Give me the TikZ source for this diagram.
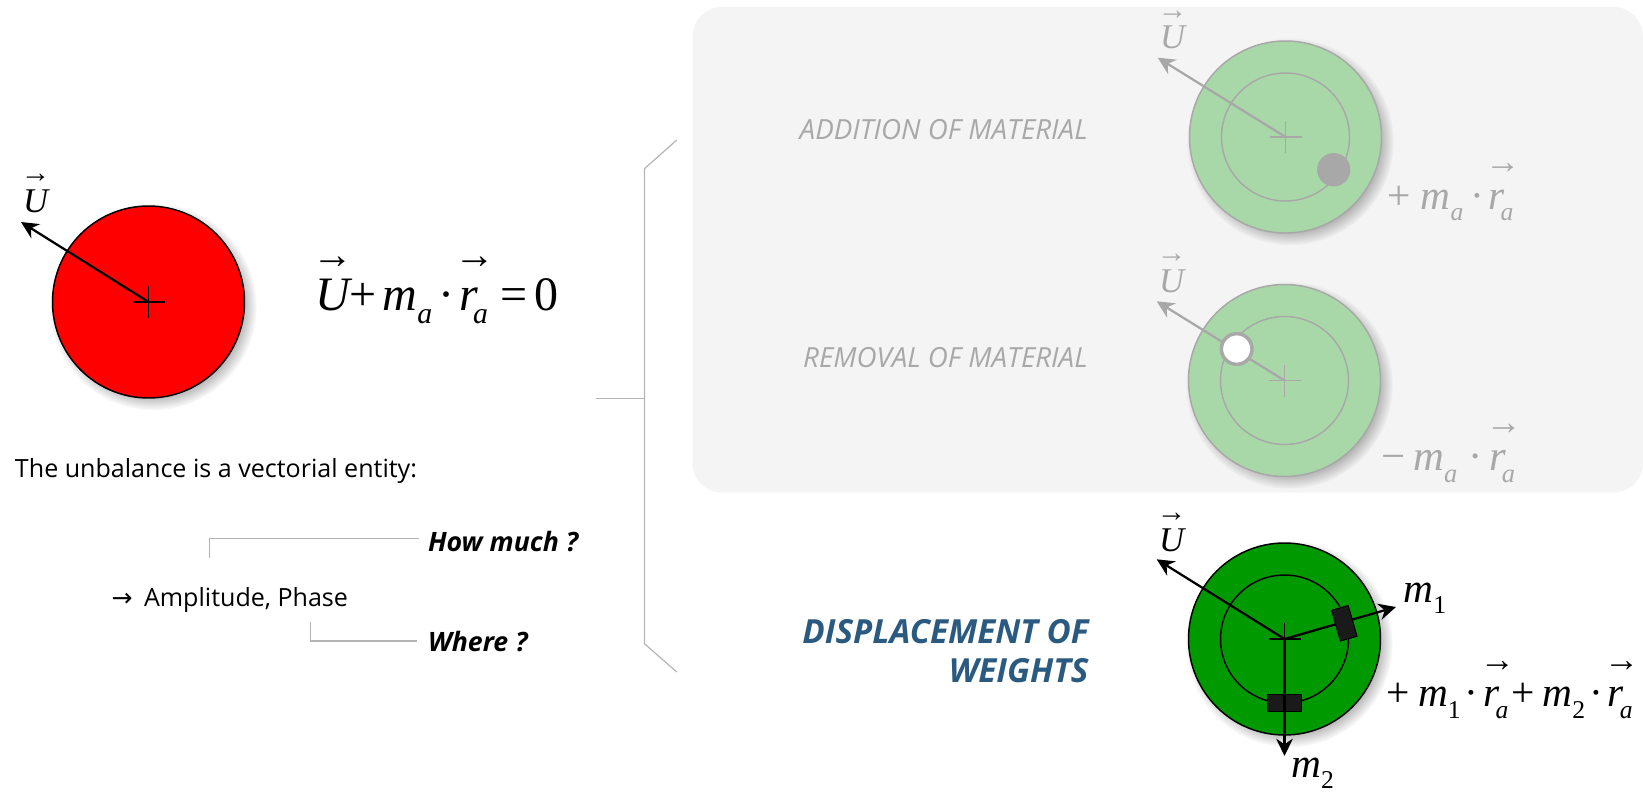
\documentclass[tikz,border=0pt]{standalone}
\usepackage{fontspec}
\setmainfont{Open Sans}
\newfontfamily\eqfont{Liberation Serif}
\newfontfamily\symfont{DejaVu Sans}
\usetikzlibrary{arrows.meta,shadows}

\definecolor{panelgray}{HTML}{F4F4F4}
\definecolor{mutegray}{HTML}{A8A8A8}
\definecolor{leadgray}{HTML}{B4B4B4}
\definecolor{mutegreen}{HTML}{A9D8A8}
\definecolor{diskgreen}{HTML}{009900}
\definecolor{titleblue}{HTML}{2A5A80}
\definecolor{blockdark}{HTML}{1A1A1A}

\newcommand{\arrowover}[2][0em]{\setbox0\hbox{#2}\makebox[0pt][l]{\makebox[\wd0][c]{\kern#1\raisebox{0.86em}{\scalebox{0.85}{→}}}}\box0}
\newcommand{\eqsub}[1]{\raisebox{-0.28em}{\scalebox{0.62}{#1}}}

\tikzset{every picture/.style={line width=0.75pt}}
\tikzset{
  disk/.style={circle,draw=#1,line width=1.1pt,minimum size=144pt,inner sep=0pt,outer sep=0pt,
    circular drop shadow={shadow xshift=3.2pt,shadow yshift=-3.2pt,shadow scale=1.08,opacity=.6}},
  innerring/.style={circle,draw=#1,line width=1.1pt,minimum size=96pt,inner sep=0pt,outer sep=0pt},
  vecarrow/.style={line width=1.7pt,-{Stealth[length=13pt,width=12.5pt]}},
  plusmark/.style={line width=1pt},
  eqbig/.style={font=\eqfont\fontsize{36}{40}\selectfont,inner sep=0pt,anchor=base west},
  eqmid/.style={font=\eqfont\fontsize{31}{34}\selectfont,inner sep=0pt,anchor=base west},
  eqsmall/.style={font=\eqfont\fontsize{26}{30}\selectfont,inner sep=0pt,anchor=base},
  bodytext/.style={font=\fontsize{18.8}{22}\selectfont,inner sep=0pt,anchor=west},
  asktext/.style={font=\fontsize{20}{24}\selectfont\bfseries\itshape,inner sep=0pt,anchor=west},
  methodlabel/.style={font=\fontsize{20.8}{24}\selectfont\itshape,text=mutegray,inner sep=0pt,anchor=east},
  leaderline/.style={draw=leadgray,line width=0.9pt},
}

\begin{document}
\begin{tikzpicture}[x=0.75pt,y=0.75pt,yscale=-1,xscale=1]
\useasboundingbox (0,0) rectangle (1643,792);

%Shape: Panel
\fill [panelgray,rounded corners=22pt] (692.5,7) rectangle (1643,492.5);

%Shape: Bracket
\coordinate (brkTop) at (676.8,140);
\coordinate (brkTopBend) at (644.4,168.7);
\coordinate (brkBotBend) at (644.4,643.7);
\coordinate (brkBot) at (676.8,672);
\coordinate (brkStem) at (596,398.6);
\coordinate (brkMid) at (644.4,398.6);
\draw [leaderline] (brkTop) -- (brkTopBend) -- (brkBotBend) -- (brkBot);
\draw [leaderline] (brkStem) -- (brkMid);

%Shape: Unbalanced disk
\coordinate (redC) at (148.5,302);
\coordinate (redU) at (21,222);
\node (redDisk) [disk=black,fill=red] at (redC) {};
\draw [plusmark] (132.5,302) -- (164.5,302) (148.5,286) -- (148.5,318);
\draw [vecarrow] (redC) -- (redU);

%Shape: Addition disk
\coordinate (addC) at (1285.5,137);
\coordinate (addU) at (1157.7,57.7);
\node (addDisk) [disk=mutegray,fill=mutegreen] at (addC) {};
\node (addRing) [innerring=mutegray] at (addC) {};
\draw [plusmark,mutegray] (1269.5,137) -- (1301.5,137) (1285.5,121) -- (1285.5,153);
\draw [vecarrow,mutegray] (addC) -- (addU);
\node (addMass) [circle,fill=mutegray,minimum size=25pt,inner sep=0pt] at (1333.7,169.7) {};

%Shape: Removal disk
\coordinate (remC) at (1284.5,380.5);
\coordinate (remU) at (1156.7,301.3);
\node (remDisk) [disk=mutegray,fill=mutegreen] at (remC) {};
\node (remRing) [innerring=mutegray] at (remC) {};
\draw [plusmark,mutegray] (1268.5,380.5) -- (1300.5,380.5) (1284.5,364.5) -- (1284.5,396.5);
\draw [vecarrow,mutegray] (remC) -- (remU);
\node (remHole) [circle,draw=mutegray,line width=2.6pt,fill=white,minimum size=23pt,inner sep=0pt] at (1236.7,349) {};

%Shape: Displacement disk
\coordinate (dispC) at (1284.5,639);
\coordinate (dispU) at (1156.7,559.3);
\coordinate (dispMa) at (1396,607);
\coordinate (dispMb) at (1284.5,756);
\node (dispDisk) [disk=black,fill=diskgreen] at (dispC) {};
\node (dispRing) [innerring=black] at (dispC) {};
\draw [plusmark] (1268.5,639) -- (1300.5,639) (1284.5,623) -- (1284.5,655);
\draw [vecarrow] (dispC) -- (dispU);
\draw [vecarrow] (dispC) -- (dispMa);
\node (blockA) [draw=black,fill=blockdark,rotate=16,minimum width=13pt,minimum height=24pt,inner sep=0pt] at (1344.3,623.3) {};
\node (blockB) [draw=black,fill=blockdark,minimum width=25pt,minimum height=12.5pt,inner sep=0pt] at (1284.5,703) {};
\draw [vecarrow] (dispC) -- (dispMb);

% Text Node
\node (redLabel) [eqsmall] at (35.6,212) {\arrowover{\itshape U}};
% Text Node
\node (mainEq) [eqbig] at (314.6,310) {\arrowover{\itshape U}+\kern0.12em{\itshape m}\eqsub{\itshape a}\kern0.13em·\kern0.1em\arrowover[0.28em]{\itshape r}\kern-0.1em\eqsub{\itshape a}\kern0.27em=\kern0.14em0};
% Text Node
\node (intro) [bodytext] at (14.5,471) {The unbalance is a vectorial entity:};
% Text Node
\node (amplitude) [bodytext] at (111,599.7) {{\symfont→}\kern0.46em Amplitude, Phase};
% Text Node
\node (howMuch) [asktext] at (427.5,541.7) {How much ?};
% Text Node
\node (whereTo) [asktext] at (427.5,641.7) {Where ?};

%Straight Lines
\coordinate (howStart) at (209.7,558);
\coordinate (howEnd) at (419,538.7);
\coordinate (whereStart) at (310.8,621.7);
\coordinate (whereEnd) at (417,641);
\draw [leaderline] (howStart) |- (howEnd);
\draw [leaderline] (whereStart) |- (whereEnd);

% Text Node
\node (addTitle) [methodlabel] at (1088,129.5) {ADDITION OF MATERIAL};
% Text Node
\node (remTitle) [methodlabel] at (1088,358) {REMOVAL OF MATERIAL};
% Text Node
\node (dispTitle) [font=\fontsize{24.9}{29.3}\selectfont\bfseries\itshape,text=titleblue,inner sep=0pt,align=right,anchor=east] at (1089,651) {DISPLACEMENT OF\\WEIGHTS};

% Text Node
\node (addLabel) [eqsmall,text=mutegray] at (1172.7,49) {\arrowover{\itshape U}};
% Text Node
\node (addEq) [eqmid,text=mutegray] at (1387,209) {+\kern0.24em{\itshape m}\eqsub{\itshape a}\kern0.16em·\kern0.12em\arrowover[0.28em]{\itshape r}\kern-0.1em\eqsub{\itshape a}};
% Text Node
\node (remLabel) [eqsmall,text=mutegray] at (1171.7,292) {\arrowover{\itshape U}};
% Text Node
\node (remEq) [eqmid,font=\eqfont\fontsize{32}{34}\selectfont,text=mutegray] at (1381,470.7) {−\kern0.18em{\itshape m}\eqsub{\itshape a}\kern0.26em·\kern0.16em\arrowover[0.28em]{\itshape r}\kern-0.1em\eqsub{\itshape a}};
% Text Node
\node (dispLabel) [eqsmall] at (1171.7,551) {\arrowover{\itshape U}};
% Text Node
\node (massA) [eqmid] at (1403,602) {{\itshape m}\eqsub{1}};
% Text Node
\node (massB) [eqmid] at (1290.7,777) {{\itshape m}\eqsub{2}};
% Text Node
\node (dispEq) [eqmid] at (1386,706.7) {+\kern0.2em{\itshape m}\eqsub{1}\kern0.1em·\kern0.12em\arrowover[0.28em]{\itshape r}\kern-0.1em\eqsub{\itshape a}\kern0.08em+\kern0.18em{\itshape m}\eqsub{2}\kern0.11em·\kern0.11em\arrowover[0.28em]{\itshape r}\kern-0.1em\eqsub{\itshape a}};

\end{tikzpicture}
\end{document}
